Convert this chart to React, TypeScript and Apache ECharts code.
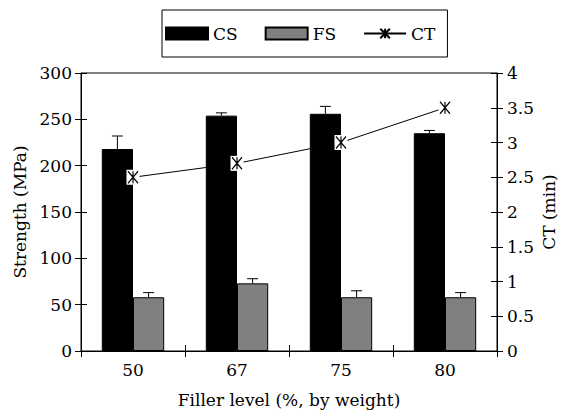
import React, { useEffect, useRef } from "react";
import * as echarts from "echarts";

const categories = ["50", "67", "75", "80"];
const csValues = [218, 254, 256, 235];
const csErrors = [14, 3, 8, 3];
const fsValues = [58, 73, 58, 58];
const fsErrors = [5, 5, 7, 5];
const ctValues = [2.5, 2.7, 3.0, 3.5];

const FONT = "DejaVu Serif";
const FS = 17;
const ASTERISK = "path://M0,0L10,12M10,0L0,12M5,0L5,12";

export default function App() {
  const ref = useRef<HTMLDivElement>(null);
  useEffect(() => {
    if (!ref.current) return;
    const chart = echarts.init(ref.current, undefined, { renderer: "svg" });
    const barFrac = 0.3;
    const errSeries = (vals: number[], errs: number[], side: number, name: string) => ({
      type: "custom",
      name,
      xAxisIndex: 0,
      yAxisIndex: 0,
      z: 3,
      silent: true,
      data: vals.map((v, i) => [i, v, errs[i]]),
      encode: { x: 0, y: 1 },
      renderItem: (params: any, api: any) => {
        const i = api.value(0);
        const v = api.value(1);
        const e = api.value(2);
        const band = api.size([1, 0])[0];
        const base = api.coord([i, v]);
        const top = api.coord([i, v + e]);
        const x = base[0] + side * band * barFrac / 2;
        return {
          type: "group",
          children: [
            { type: "line", shape: { x1: x, y1: base[1], x2: x, y2: top[1] }, style: { stroke: "#000", lineWidth: 1 } },
            { type: "line", shape: { x1: x - 5.5, y1: top[1], x2: x + 5.5, y2: top[1] }, style: { stroke: "#000", lineWidth: 1 } },
          ],
        };
      },
    });
    const label = { fontFamily: FONT, fontSize: FS, color: "#000" };
    const tick = { color: "#000", width: 1 };
    const gridBox = { left: 81, right: 64, top: 73, bottom: 59, outerBoundsMode: "none", containLabel: false };
    const option: any = {
      animation: false,
      textStyle: { fontFamily: FONT },
      legend: {
        data: [
          { name: "CS", icon: "rect" },
          { name: "FS", icon: "rect" },
          { name: "CT" },
        ],
        left: 162,
        top: 10,
        padding: [15, 12, 15, 3],
        borderColor: "#000",
        borderWidth: 1,
        itemWidth: 42,
        itemHeight: 12,
        itemGap: 27,
        textStyle: { ...label },
      },
      grid: [
        { ...gridBox, show: true, borderColor: "#000", borderWidth: 1 },
        { ...gridBox, show: false },
      ],
      xAxis: [
        {
          type: "category",
          gridIndex: 0,
          data: categories,
          name: "Filler level (%, by weight)",
          nameLocation: "middle",
          nameGap: 40,
          nameMoveOverlap: false,
          nameTextStyle: { ...label },
          axisLine: { lineStyle: { color: "#000", width: 1 } },
          axisTick: { show: true, length: 6, lineStyle: tick },
          axisLabel: { ...label, margin: 10 },
        },
        {
          type: "category",
          gridIndex: 1,
          position: "bottom",
          data: categories,
          axisLine: { show: false },
          axisTick: { show: true, inside: true, length: 6, lineStyle: tick },
          axisLabel: { show: false },
        },
      ],
      yAxis: [
        {
          type: "value",
          gridIndex: 0,
          position: "left",
          min: 0,
          max: 300,
          interval: 50,
          name: "Strength (MPa)",
          nameLocation: "middle",
          nameRotate: 90,
          nameGap: 53,
          nameMoveOverlap: false,
          nameTextStyle: { ...label },
          axisLine: { show: true, lineStyle: { color: "#000", width: 1 } },
          axisTick: { show: true, length: 6, lineStyle: tick },
          axisLabel: { ...label, margin: 9 },
          splitLine: { show: false },
        },
        {
          type: "value",
          gridIndex: 0,
          position: "right",
          min: 0,
          max: 4,
          interval: 0.5,
          name: "CT (min)",
          nameLocation: "middle",
          nameRotate: 90,
          nameGap: 43,
          nameMoveOverlap: false,
          nameTextStyle: { ...label },
          axisLine: { show: true, lineStyle: { color: "#000", width: 1 } },
          axisTick: { show: true, length: 6, lineStyle: tick },
          axisLabel: { ...label, margin: 10 },
          splitLine: { show: false },
        },
        {
          type: "value",
          gridIndex: 1,
          position: "left",
          min: 0,
          max: 300,
          interval: 50,
          axisLine: { show: false },
          axisTick: { show: true, inside: true, length: 6, lineStyle: tick },
          axisLabel: { show: false },
          splitLine: { show: false },
        },
        {
          type: "value",
          gridIndex: 1,
          position: "right",
          min: 0,
          max: 4,
          interval: 0.5,
          axisLine: { show: false },
          axisTick: { show: true, inside: true, length: 6, lineStyle: tick },
          axisLabel: { show: false },
          splitLine: { show: false },
        },
      ],
      series: [
        {
          name: "CS",
          type: "bar",
          xAxisIndex: 0,
          yAxisIndex: 0,
          data: csValues,
          barWidth: "30%",
          barGap: "0%",
          itemStyle: { color: "#000", borderColor: "#000", borderWidth: 1 },
        },
        {
          name: "FS",
          type: "bar",
          xAxisIndex: 0,
          yAxisIndex: 0,
          data: fsValues,
          barWidth: "30%",
          barGap: "0%",
          itemStyle: { color: "#808080", borderColor: "#000", borderWidth: 1 },
        },
        errSeries(csValues, csErrors, -1, "CSerr"),
        errSeries(fsValues, fsErrors, 1, "FSerr"),
        {
          name: "CT",
          type: "line",
          xAxisIndex: 0,
          yAxisIndex: 1,
          data: ctValues,
          z: 4,
          symbol: ASTERISK,
          symbolSize: [10, 12],
          lineStyle: { color: "#000", width: 1 },
          itemStyle: { color: "#000", borderColor: "#000", borderWidth: 1.3 },
        },
        {
          name: "CTbg",
          type: "scatter",
          xAxisIndex: 0,
          yAxisIndex: 1,
          data: ctValues,
          z: 5,
          silent: true,
          symbol: "rect",
          symbolSize: [13, 15],
          itemStyle: { color: "#fff", borderWidth: 0, opacity: 1 },
        },
        {
          name: "CTmark",
          type: "scatter",
          xAxisIndex: 0,
          yAxisIndex: 1,
          data: ctValues,
          z: 6,
          silent: true,
          symbol: ASTERISK,
          symbolSize: [10, 12],
          itemStyle: { color: "#000", borderColor: "#000", borderWidth: 1.3, opacity: 1 },
        },
        {
          name: "tickL",
          type: "line",
          xAxisIndex: 1,
          yAxisIndex: 2,
          data: [0, 0, 0, 0],
          symbol: "none",
          lineStyle: { opacity: 0 },
          silent: true,
        },
        {
          name: "tickR",
          type: "line",
          xAxisIndex: 1,
          yAxisIndex: 3,
          data: [0, 0, 0, 0],
          symbol: "none",
          lineStyle: { opacity: 0 },
          silent: true,
        },
      ],
    };
    chart.setOption(option);
    return () => chart.dispose();
  }, []);
  return <div ref={ref} style={{ width: 561, height: 410, position: "absolute", left: 0, top: 0 }} />;
}
